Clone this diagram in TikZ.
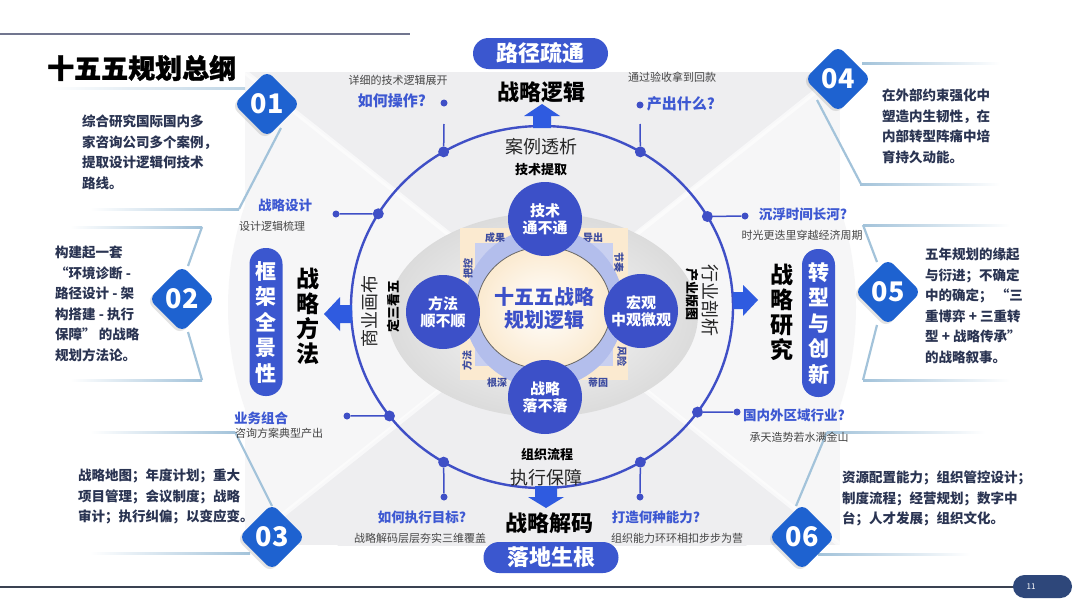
\documentclass[tikz,border=0pt]{standalone}
\usepackage{fontspec}
\setmainfont{Noto Sans CJK SC}
\newfontfamily\heavyfont{Noto Sans CJK SC}[BoldFeatures={FakeBold=1.2}]
\usetikzlibrary{shadows}
\definecolor{ringblue}{HTML}{3F4FC6}
\definecolor{ballblue}{HTML}{3C50C8}
\definecolor{pillblue}{HTML}{3B57CF}
\definecolor{arrowblue}{HTML}{2F5BE0}
\definecolor{diablue}{HTML}{1E62D0}
\definecolor{qblue}{HTML}{3D58D2}
\definecolor{navytext}{HTML}{2A3452}
\definecolor{graytext}{HTML}{454545}
\definecolor{framecol}{HTML}{A3C3DA}
\definecolor{cream}{HTML}{FBEAD0}
\definecolor{peri}{HTML}{C9D0F0}
\definecolor{peri2}{HTML}{B3BEEC}
\definecolor{pagenavy}{HTML}{2E477A}
\definecolor{bggray}{HTML}{EEEEF0}
\definecolor{innertext}{HTML}{3D4CA0}
\definecolor{topline}{HTML}{71768F}
\definecolor{botline}{HTML}{3A4252}
\begin{document}
\begin{tikzpicture}[x=1pt,y=-1pt,
  desc/.style={font=\fontsize{13.5}{20.5}\selectfont\bfseries, text=navytext, align=left, inner sep=0pt, anchor=north west},
  smalltxt/.style={font=\fontsize{11}{13}\selectfont, text=graytext, inner sep=0pt},
  qlab/.style={font=\fontsize{13.5}{15}\selectfont\bfseries, text=qblue, inner sep=0pt},
  qlabbig/.style={font=\fontsize{15}{17}\selectfont\bfseries, text=qblue, inner sep=0pt},
  bigblack/.style={font=\fontsize{22}{24}\selectfont\bfseries, text=black, inner sep=0pt},
  ringtxt/.style={font=\fontsize{18}{20}\selectfont, text=black!85, inner sep=0pt},
  ringbold/.style={font=\fontsize{13}{15}\selectfont\bfseries, text=black, inner sep=0pt},
  pill/.style={rectangle, rounded corners=15.5pt, fill=pillblue, minimum width=135pt, minimum height=31pt, inner sep=0pt, font=\fontsize{22}{24}\selectfont\bfseries, text=white},
  vpill/.style={rectangle, rounded corners=16pt, fill=pillblue, minimum width=33pt, minimum height=148pt, inner sep=0pt, font=\fontsize{21}{25.5}\selectfont\bfseries, text=white, align=center},
  vtext/.style={font=\fontsize{23}{25}\selectfont\bfseries, text=black, align=center, inner sep=0pt},
  ball/.style={circle, fill=ballblue, minimum size=74pt, inner sep=0pt, font=\fontsize{15}{17}\selectfont\bfseries, text=white, align=center},
  diabox/.style={rectangle, rotate=45, fill=diablue, rounded corners=8pt, minimum size=47pt, inner sep=0pt, drop shadow={opacity=0.22, shadow xshift=-2.1pt, shadow yshift=-2.1pt}},
  numtext/.style={font=\fontsize{27}{27}\selectfont\bfseries, text=white, inner sep=0pt},
  bigdot/.style={circle, fill=ringblue, minimum size=11pt, inner sep=0pt},
  smalldot/.style={circle, fill=ringblue, minimum size=7pt, inner sep=0pt},
  conn/.style={ringblue, line width=1.5pt},
  inlab/.style={font=\fontsize{10}{11}\selectfont\bfseries, text=innertext, inner sep=0pt},
  framel/.style={framecol, line width=2.2pt},
  arrowshape/.style={fill=arrowblue}
]
\useasboundingbox (0,0) rectangle (1080,608);
\fill[white] (0,0) rectangle (1080,608);

% ---------- background ----------
\begin{scope}
  \clip (0,72) rectangle (1080,545);
  \fill[bggray] (245,72) rectangle (840,545);
  \fill[bggray] (542,307) circle[radius=314pt];
  \fill[white,opacity=0.5] (542,307) -- (-52,-163) -- (-52,783) -- cycle;
  \fill[white,opacity=0.5] (542,307) -- (1138,-163) -- (1138,783) -- cycle;
  \draw[white, line width=5pt, opacity=0.6] (245,72) -- (840,545) (840,72) -- (245,545);
\end{scope}

% ---------- top / bottom rules ----------
\draw[topline, line width=1.4pt] (0,34) -- (410,34);
\draw[botline, line width=1.8pt] (0,587) -- (1015,587);
\node[rectangle, rounded corners=11.5pt, fill=pagenavy, minimum width=59pt, minimum height=23pt, inner sep=0pt] (page) at (1042.5,586.5) {};
\node[font=\fontsize{8}{9}\selectfont, text=white, inner sep=0pt] (pagenum) at (1031,586.5) {11};

% ---------- title ----------
\node[font=\fontsize{27}{29}\selectfont\heavyfont\bfseries, text=black, inner sep=0pt, anchor=west] (title) at (47,68) {十五五规划总纲};

% ---------- bracket frames ----------
% 01
\shade[left color=white, right color=framecol!70] (50,87) rectangle (245,89);
\draw[framel] (281,128) -- (239,209);
\shade[left color=white, right color=framecol] (90,208.5) rectangle (239,210.8);
% 02
\shade[left color=white, right color=framecol] (70,226) rectangle (202,228.3);
\draw[framel] (202,227) -- (188,266);
\draw[framel] (188,332) -- (202,380);
\shade[left color=white, right color=framecol] (70,379) rectangle (202,381.3);
% 03
\shade[left color=white, right color=framecol] (90,431) rectangle (235,433.3);
\draw[framel] (235,432) -- (272,506);
\shade[left color=white, right color=framecol] (90,552) rectangle (250,554.3);
% 04
\shade[left color=framecol, right color=white] (862,62) rectangle (1000,64.3);
\draw[framel] (817,100) -- (861,184);
\shade[left color=framecol, right color=white] (860,183) rectangle (1000,185.3);
% 05
\shade[left color=framecol, right color=white] (863,224) rectangle (1010,226.3);
\draw[framel] (863,225) -- (877,262);
\draw[framel] (877,325) -- (863,380);
\shade[left color=framecol, right color=white] (863,379) rectangle (1010,381.3);
% 06
\shade[left color=framecol, right color=white] (827,431) rectangle (985,433.3);
\draw[framel] (827,432) -- (796,506);
\shade[left color=framecol, right color=white] (818,553) rectangle (970,555.3);

% ---------- number diamonds ----------
\node[diabox] (d01) at (267,104) {};
\node[numtext] at (d01) {01};
\node[diabox] (d02) at (182,299) {};
\node[numtext] at (d02) {02};
\node[diabox] (d03) at (272,537) {};
\node[numtext] at (d03) {03};
\node[diabox] (d04) at (838,79) {};
\node[numtext] at (d04) {04};
\node[diabox] (d05) at (888,292) {};
\node[numtext] at (d05) {05};
\node[diabox] (d06) at (802,537) {};
\node[numtext] at (d06) {06};

% ---------- descriptions ----------
\node[desc] (t01) at (82,115) {综合研究国际国内多\\家咨询公司多个案例，\\提取设计逻辑何技术\\路线。};
\node[desc] (t02) at (55,246) {构建起一套\\“环境诊断 -\\路径设计 - 架\\构搭建 - 执行\\保障” 的战略\\规划方法论。};
\node[desc] (t03) at (78,469) {战略地图；年度计划；重大\\项目管理；会议制度；战略\\审计；执行纠偏；以变应变。};
\node[desc] (t04) at (882,89) {在外部约束强化中\\塑造内生韧性，在\\内部转型阵痛中培\\育持久动能。};
\node[desc] (t05) at (925,248) {五年规划的缘起\\与衍进；不确定\\中的确定；\ “三\\重博弈 + 三重转\\型 + 战略传承”\\的战略叙事。};
\node[desc] (t06) at (842,471) {资源配置能力；组织管控设计；\\制度流程；经营规划；数字中\\台；人才发展；组织文化。};

% ---------- center gray ellipse ----------
\shade[inner color=gray!3, outer color=gray!28] (543,315) ellipse[x radius=155pt, y radius=102pt];

% ---------- cream square and center ----------
\fill[cream] (460,228) rectangle (628,380);
\fill[peri] (475,243) rectangle (613,366);
\fill[peri2] (544,308) circle[radius=80pt];
\draw[black!60, line width=0.8pt, inner color=white, outer color=cream] (544,308) ellipse[x radius=67pt, y radius=61pt];
\node[font=\fontsize{20}{23}\selectfont\bfseries, text=ballblue, align=center, inner sep=0pt] (core) at (544,308) {十五五战略\\规划逻辑};

\node[inlab] (l1) at (495,238) {成果};
\node[inlab] (l2) at (593,238) {导出};
\node[inlab, rotate=-90] (l3) at (619,262) {节奏};
\node[inlab, rotate=90] (l4) at (468,268) {把控};
\node[inlab, rotate=90] (l5) at (467,360) {方法};
\node[inlab, rotate=-90] (l6) at (622,356) {风险};
\node[inlab] (l7) at (497,383) {根深};
\node[inlab] (l8) at (598,383) {蒂固};

\node[ball] (bTop) at (545,219) {技术\\通不通};
\node[ball] (bLeft) at (443,312) {方法\\顺不顺};
\node[ball] (bRight) at (641,311) {宏观\\中观微观};
\node[ball] (bBot) at (545,397) {战略\\落不落};

% ---------- ring ----------
\draw[ringblue, line width=2.4pt] (542,307) ellipse[x radius=191pt, y radius=181pt];
\path (542,307) ++(-121:191 and 181) node[bigdot] (dTL) {};
\path (542,307) ++(-59:191 and 181) node[bigdot] (dTR) {};
\path (542,307) ++(121:191 and 181) node[bigdot] (dBL) {};
\path (542,307) ++(59:191 and 181) node[bigdot] (dBR) {};
\path (542,307) ++(-149:191 and 181) node[bigdot] (dLU) {};
\path (542,307) ++(143:191 and 181) node[bigdot] (dLL) {};
\path (542,307) ++(-30:191 and 181) node[bigdot] (dRU) {};
\path (542,307) ++(35.5:191 and 181) node[bigdot] (dRL) {};

\node[smalldot] (sTL) at (444,103) {};
\node[smalldot] (sTR) at (640,105) {};
\coordinate (eTL) at (444,124);
\coordinate (eTR) at (640,124);
\node[smalldot] (sBL) at (444,497) {};
\node[smalldot] (sBR) at (640,497) {};
\node[smalldot] (sLU) at (336,214) {};
\node[smalldot] (sLL) at (347,416) {};
\node[smalldot] (sRU) at (745,216) {};
\node[smalldot] (sRL) at (737,412) {};

\draw[conn] (dTL) -- (eTL);
\draw[conn] (dTR) -- (eTR);
\draw[conn] (dBL) -- (sBL);
\draw[conn] (dBR) -- (sBR);
\draw[conn] (dLU) -- (sLU);
\draw[conn] (dLL) -- (sLL);
\draw[conn] (dRU) -- (sRU);
\draw[conn] (dRL) -- (sRL);

% ---------- arrows ----------
\fill[arrowshape] (542,104) -- (560,116) -- (551,116) -- (551,128) -- (533,128) -- (533,116) -- (524,116) -- cycle;
\fill[arrowshape] (546,508) -- (564,497) -- (557,497) -- (557,486) -- (535,486) -- (535,497) -- (528,497) -- cycle;
\fill[arrowshape] (324,314) -- (340,297) -- (340,305) -- (352,305) -- (352,323) -- (340,323) -- (340,331) -- cycle;
\fill[arrowshape] (758,300) -- (743,285) -- (743,292) -- (733,292) -- (733,309) -- (743,309) -- (743,316) -- cycle;

% ---------- pills ----------
\node[pill] (pTop) at (540.5,53.5) {路径疏通};
\node[pill] (pBot) at (551,557.5) {落地生根};
\node[vpill] (kuangjia) at (266,322) {框\\架\\全\\景\\性};
\node[vpill] (zhuanxing) at (818.5,323) {转\\型\\与\\创\\新};
\node[vtext] (fangfa) at (308,316) {战\\略\\方\\法};
\node[vtext] (yanjiu) at (782,312) {战\\略\\研\\究};

% ---------- ring labels ----------
\node[bigblack] (luoji) at (541,92) {战略逻辑};
\node[bigblack] (jiema) at (549,523) {战略解码};
\node[ringtxt] (anli) at (541,147) {案例透析};
\node[ringbold] (tiqu) at (541,170) {技术提取};
\node[ringbold] (liucheng) at (547,455) {组织流程};
\node[ringtxt] (baozhang) at (546,478) {执行保障};
\node[ringtxt, rotate=90] (huabu) at (370,311) {商业画布};
\node[ringbold, rotate=90] (kanwu) at (393,306) {定三看五};
\node[ringtxt, rotate=-90] (poxi) at (710,300) {行业剖析};
\node[ringbold, rotate=-90] (bantu) at (692,294) {产业版图};

% ---------- question labels ----------
\node[smalltxt] (q1s) at (398,80) {详细的技术逻辑展开};
\node[qlabbig] (q1) at (392,101) {如何操作?};
\node[smalltxt] (q2s) at (672,77) {通过验收拿到回款};
\node[qlabbig] (q2) at (681,104) {产出什么?};
\node[qlab] (q3) at (285,205) {战略设计};
\node[smalltxt] (q3s) at (272,226) {设计逻辑梳理};
\node[qlab] (q4) at (803,214) {沉浮时间长河?};
\node[smalltxt] (q4s) at (802,235) {时光更迭里穿越经济周期};
\node[qlab] (q5) at (261,418) {业务组合};
\node[smalltxt] (q5s) at (279,433) {咨询方案典型产出};
\node[qlab] (q6) at (794,415) {国内外区域行业?};
\node[smalltxt] (q6s) at (799,437) {承天造势若水满金山};
\node[qlab] (q7) at (422,517) {如何执行目标?};
\node[smalltxt] (q7s) at (420,538) {战略解码层层夯实三维覆盖};
\node[qlab] (q8) at (656,517) {打造何种能力?};
\node[smalltxt] (q8s) at (677,538) {组织能力环环相扣步步为营};
\end{tikzpicture}
\end{document}
